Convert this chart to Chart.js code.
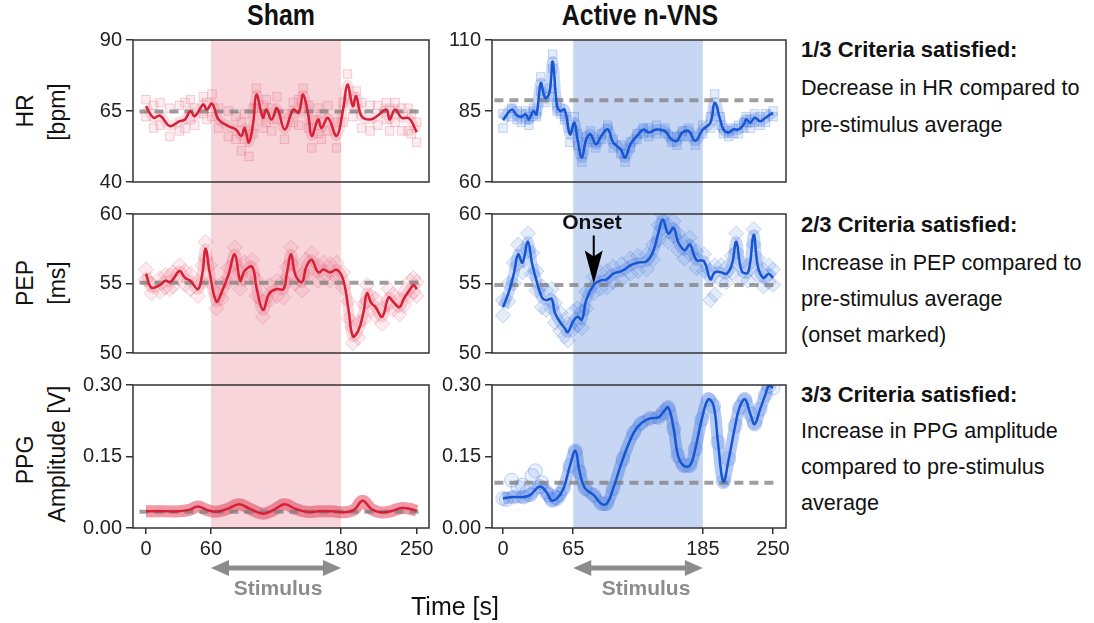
<!DOCTYPE html>
<html>
<head>
<meta charset="utf-8">
<script src="https://cdn.jsdelivr.net/npm/chart.js@4.4.1/dist/chart.umd.min.js"></script>
<style>
  body { margin: 0; background: #fff; width: 1094px; height: 623px; overflow: hidden; position: relative;
         font-family: "Liberation Sans", Arial, sans-serif; color: #111; }
  canvas { position: absolute; }
  .t { position: absolute; white-space: nowrap; line-height: 24px; }
  .title { font-weight: bold; font-size: 30px; transform: translateX(-50%) scaleX(0.83); }
  .ylab { font-size: 23px; transform: translate(-50%, -50%) rotate(-90deg); }
  .crit { left: 801px; font-size: 21.6px; }
  .crit b { font-weight: bold; font-size: 22px; }
  .stim { font-weight: bold; font-size: 21px; color: #8c8c8c; transform: translateX(-50%); }
</style>
</head>
<body>

<div class="t title" style="left:281px; top:3px;">Sham</div>
<div class="t title" style="left:640px; top:3px;">Active n-VNS</div>

<div class="t ylab" style="left:25px; top:111px;">HR</div>
<div class="t ylab" style="left:57px; top:112px;">[bpm]</div>
<div class="t ylab" style="left:25px; top:283px;">PEP</div>
<div class="t ylab" style="left:57px; top:283px;">[ms]</div>
<div class="t ylab" style="left:25px; top:460px;">PPG</div>
<div class="t ylab" style="left:57px; top:454px;">Amplitude [V]</div>

<div class="t crit" style="top:38px;"><b>1/3 Criteria satisfied:</b></div>
<div class="t crit" style="top:76px;">Decrease in HR compared to</div>
<div class="t crit" style="top:113px;">pre-stimulus average</div>
<div class="t crit" style="top:213px;"><b>2/3 Criteria satisfied:</b></div>
<div class="t crit" style="top:251px;">Increase in PEP compared to</div>
<div class="t crit" style="top:287px;">pre-stimulus average</div>
<div class="t crit" style="top:323px;">(onset marked)</div>
<div class="t crit" style="top:383px;"><b>3/3 Criteria satisfied:</b></div>
<div class="t crit" style="top:419px;">Increase in PPG amplitude</div>
<div class="t crit" style="top:455px;">compared to pre-stimulus</div>
<div class="t crit" style="top:491px;">average</div>

<canvas id="c11" width="380" height="198" style="left:60px; top:0px;"></canvas>
<canvas id="c12" width="355" height="198" style="left:440px; top:0px;"></canvas>
<canvas id="c21" width="380" height="171" style="left:60px; top:198px;"></canvas>
<canvas id="c22" width="355" height="171" style="left:440px; top:198px;"></canvas>
<canvas id="c31" width="380" height="254" style="left:60px; top:369px;"></canvas>
<canvas id="c32" width="355" height="254" style="left:440px; top:369px;"></canvas>

<div class="t" style="left:592px; top:210px; transform:translateX(-50%); font-weight:bold; font-size:21px;">Onset</div>
<div class="t stim" style="left:278px; top:576px;">Stimulus</div>
<div class="t stim" style="left:646px; top:576px;">Stimulus</div>
<div class="t" style="left:455px; top:594px; transform:translateX(-50%); font-size:25px;">Time [s]</div>

<script>
// stimulus windows and axis ticks
const shamBand = [60, 180];
const activeBand = [65, 185];
const shamXTicks = [0, 60, 180, 250];
const activeXTicks = [0, 65, 185, 250];
const hrShamTicks = [40, 65, 90];
const hrActiveTicks = [60, 85, 110];
const pepTicks = [50, 55, 60];
const ppgTicks = [0, 0.15, 0.30];

// pre-stimulus averages (dashed lines)
const hrShamMean = 64.8;
const hrActiveMean = 88.8;
const pepShamMean = 55.05;
const pepActiveMean = 54.9;
const ppgShamMean = 0.034;
const ppgActiveMean = 0.095;

const onsetTime = 84;
const onsetValue = 55;

// HR, sham
const shamHrT = [0,7,13,22,31,36,41,45,53,56,61,67,76,83,88,91,95,99,102,108,111,116,121,128,136,141,145,150,153,159,162,168,176,182,186,191,194,199,207,214,222,225,230,236,242,245,250];
const shamHrLine = [66.7,62.6,63.4,59.7,61.4,62,65,63.2,67.3,65.5,67.6,62,59.7,58.5,56.2,59,53.9,60.9,70.8,62.6,65.5,62,66,58.5,65.5,64.4,70.8,63.2,56.2,62,59,62.6,56.2,65.5,74.3,66.7,70.2,63.2,62,63.4,65.5,62,65.5,62.6,62.6,61.4,57.5];
const shamHrPtsA = [69,67,68,66,67,68,69,66,70,68,71,66,65,63,61,64,58,66,73,67,69,66,70,64,68,69,73,67,62,66,64,67,61,68,78,70,72,68,67,67,68,66,68,66,66,64,61];
const shamHrPtsB = [63,59,60,56,58,59,62,60,64,62,63,59,56,55,51,55,49,57,66,59,61,58,62,55,61,60,66,59,52,57,55,58,52,61,69,63,66,59,58,60,62,58,61,58,58,57,54];

// HR, active
const activeHrT = [0,8,13,17,21,24,28,31,35,39,43,46,50,53,57,62,66,69,73,77,81,86,91,97,102,109,113,118,124,130,135,142,150,156,161,166,172,178,185,192,196,201,204,209,213,218,223,225,229,233,238,243,250];
const activeHrLine = [81.8,85.5,83.4,83,83.8,82,85,83.8,94.8,89.6,91.4,102.4,86.7,85,85.5,76.8,80.9,75,68.6,75,76.8,73.3,76.2,78.5,73.9,71.5,68.6,73.3,76.2,78.5,77.4,78.5,77.9,75,74.5,77.4,77.9,74.5,78.5,80.9,87.9,82,78.5,77.4,78.5,78.5,80.3,82,80.9,82.6,81.4,82.6,84.4];
const activeHrPtsA = [79,83,82,81,82,80,84,83,97,91,93,105,88,84,83,79,83,73,67,74,75,72,75,79,75,70,67,72,75,79,76,80,77,74,73,76,76,73,77,79,91,80,77,76,77,77,79,81,79,81,80,81,85];
const activeHrPtsB = [84,86,85,84,85,83,86,85,92,88,90,100,85,86,82,74,78,77,70,76,78,74,77,80,72,73,70,74,77,77,79,77,79,76,76,78,79,76,80,83,85,83,79,78,79,80,81,83,82,84,83,84,83];

// PEP, sham
const shamPepT = [0,5,13,18,22,25,31,36,41,48,52,55,59,65,70,76,82,87,91,98,102,108,114,121,127,130,134,138,144,148,153,159,164,170,176,182,187,191,196,201,204,208,212,218,224,228,234,238,244,247,250];
const shamPepLine = [55.7,54.7,54.9,55.2,55.1,55.3,55.9,55.4,55.2,54.6,55.7,57.5,55.7,53.7,54.4,55.6,57.1,55.2,55.9,56.2,54.7,53.1,54.3,54.6,54.6,55.7,57.1,55.6,55.1,56.2,56.7,55.8,56,55.8,56,55.3,53.1,51.2,51.6,53,54.3,53.6,53.3,52.6,54,53.7,53.3,53.9,54.6,54.9,54.6];
const shamPepPtsA = [56,55,55.4,55.6,55.6,55.8,56.3,55.9,55.7,55.1,56.3,58,56.3,54.3,55,56.1,57.6,55.8,56.5,56.7,55.3,53.7,54.9,55.2,55.2,56.2,57.6,56.2,55.6,56.7,57.2,56.3,56.5,56.4,56.5,55.8,53.7,51.8,52.2,53.5,54.9,54.1,53.9,53.2,54.6,54.2,53.9,54.4,55.2,55.4,55.1];
const shamPepPtsB = [55.3,54.3,54.4,54.7,54.6,54.8,55.4,54.9,54.6,54.1,55.1,56.8,55.1,53.2,53.9,55.1,56.5,54.6,55.3,55.6,54.1,52.6,53.8,54.1,54,55.1,56.5,55,54.5,55.6,56.1,55.2,55.4,55.2,55.4,54.7,52.5,50.7,51.1,52.4,53.7,53.1,52.7,52.1,53.5,53.1,52.8,53.4,54.1,54.4,54.1];

// PEP, active
const activePepT = [0,5,10,14,18,23,27,31,36,40,45,48,53,57,60,65,69,73,77,84,90,96,102,110,118,125,133,139,144,148,153,158,162,168,173,179,186,192,196,202,207,212,216,221,227,232,236,241,246,250];
const activePepLine = [53.3,54.3,55.7,57.1,56.5,58,56.4,55.2,54,53.8,53.9,52.9,52.2,51.8,51.5,52.3,52.6,52.4,53.8,54.9,55.2,55.3,55.7,55.9,56.3,56.5,56.6,57.3,58.7,59.6,58.6,59,58,57.4,57.8,56.7,56.6,55.3,55.8,55.8,55.7,56.4,58,55.9,55.8,58.5,56.2,55.4,55.7,55.4];
const activePepPtsA = [53.8,55,56.5,57.8,57.4,58.6,57.2,55.9,54.8,54.5,54.6,53.6,52.9,52.4,52.1,53,53.2,53,54.4,55.5,55.8,55.9,56.2,56.4,56.8,57,57.1,57.8,59.2,59.9,59.2,59.5,58.6,58,58.3,57.3,57.1,55.9,56.3,56.3,56.2,57,58.6,56.5,56.3,58.9,56.8,56,56.3,56];
const activePepPtsB = [52.7,53.7,55,56.4,55.8,57.3,55.7,54.5,53.3,53.1,53.2,52.2,51.6,51.2,50.9,51.7,52,51.8,53.2,54.3,54.6,54.7,55.1,55.3,55.7,55.9,56,56.7,58.1,59,58,58.4,57.4,56.8,57.1,56.1,55.9,53.8,54.2,55.2,55.1,55.8,57.3,55.3,55.2,57.8,55.6,54.8,55.1,54.9];

// PPG amplitude, sham
const shamPpgT = [0,10,20,30,40,48,56,65,75,86,96,108,118,128,138,148,160,172,182,192,200,208,216,226,236,244,250];
const shamPpgLine = [0.035,0.035,0.035,0.035,0.038,0.045,0.038,0.034,0.04,0.05,0.04,0.03,0.038,0.05,0.04,0.034,0.035,0.035,0.033,0.038,0.057,0.04,0.033,0.035,0.042,0.04,0.036];

// PPG amplitude, active
const activePpgT = [0,10,19,25,34,40,45,50,56,62,67,71,76,84,91,96,102,111,121,128,136,144,148,153,158,162,167,173,178,184,190,195,199,204,209,215,219,224,229,233,238,243,246,250];
const activePpgLine = [0.062,0.065,0.065,0.069,0.087,0.076,0.058,0.062,0.083,0.131,0.162,0.117,0.083,0.069,0.051,0.051,0.083,0.145,0.2,0.22,0.23,0.232,0.242,0.253,0.208,0.152,0.131,0.131,0.166,0.228,0.27,0.256,0.18,0.097,0.145,0.215,0.253,0.27,0.239,0.218,0.249,0.28,0.298,0.294];
const activePpgEarlyT = [3,8,14,18,22,27,30,36,42,48,52];
const activePpgEarly = [0.06,0.1,0.085,0.09,0.075,0.11,0.12,0.095,0.07,0.065,0.07];

const RED = 'rgb(214,32,56)';
const BLUE = 'rgb(22,86,210)';
const tickFont = { family: '"Liberation Sans", Arial, sans-serif', size: 20 };

function xy(ts, vs) {
    return ts.map((t, i) => ({ x: t, y: vs[i] }));
}

function lineSet(ts, vs, color) {
    return { data: xy(ts, vs), showLine: true, borderColor: color, borderWidth: 2.5, pointRadius: 0, tension: 0.4 };
}

function haloSet(ts, vs, color, width) {
    return { data: xy(ts, vs), showLine: true, borderColor: color, borderWidth: width, pointRadius: 0, tension: 0.4 };
}

function ptsSet(ts, vs, style, r, fill, stroke) {
    return { data: xy(ts, vs), pointStyle: style, pointRadius: r, backgroundColor: fill, borderColor: stroke, borderWidth: 1 };
}

function meanSet(xr, v) {
    return { data: [{ x: xr[0], y: v }, { x: xr[1], y: v }], showLine: true, borderColor: 'rgba(125,125,125,0.75)',
             borderWidth: 4, borderDash: [9, 6], pointRadius: 0 };
}

// draws the stimulus band, the frame, the stimulus arrow and the onset marker
function framePlugin(o) {
    return {
        id: 'frame',
        beforeDatasetsDraw(chart) {
            const { ctx, chartArea: a, scales: { x } } = chart;
            const x1 = x.getPixelForValue(o.band[0]);
            const x2 = x.getPixelForValue(o.band[1]);
            const y1 = o.row === 1 ? a.top : 0;
            const y2 = o.row === 3 ? a.bottom : chart.height;
            ctx.save();
            ctx.fillStyle = o.bandColor;
            ctx.fillRect(x1, y1, x2 - x1, y2 - y1);
            ctx.restore();
        },
        afterDraw(chart) {
            const { ctx, chartArea: a, scales: { x, y } } = chart;
            ctx.save();
            ctx.strokeStyle = '#333';
            ctx.lineWidth = 1.5;
            ctx.strokeRect(a.left, a.top, a.right - a.left, a.bottom - a.top);

            if (o.row === 3) {
                const x1 = x.getPixelForValue(o.band[0]);
                const x2 = x.getPixelForValue(o.band[1]);
                const ay = a.bottom + 40;
                ctx.strokeStyle = ctx.fillStyle = '#8c8c8c';
                ctx.lineWidth = 5;
                ctx.beginPath();
                ctx.moveTo(x1 + 12, ay);
                ctx.lineTo(x2 - 12, ay);
                ctx.stroke();
                ctx.beginPath();
                ctx.moveTo(x1, ay); ctx.lineTo(x1 + 18, ay - 8); ctx.lineTo(x1 + 18, ay + 8);
                ctx.closePath(); ctx.fill();
                ctx.beginPath();
                ctx.moveTo(x2, ay); ctx.lineTo(x2 - 18, ay - 8); ctx.lineTo(x2 - 18, ay + 8);
                ctx.closePath(); ctx.fill();
            }

            if (o.onset) {
                const ox = x.getPixelForValue(onsetTime);
                const oy = y.getPixelForValue(onsetValue);
                ctx.strokeStyle = ctx.fillStyle = '#000';
                ctx.lineWidth = 2;
                ctx.beginPath();
                ctx.moveTo(ox, oy - 48);
                ctx.lineTo(ox, oy - 24);
                ctx.stroke();
                ctx.beginPath();
                ctx.moveTo(ox, oy);
                ctx.lineTo(ox - 9, oy - 33);
                ctx.lineTo(ox, oy - 27);
                ctx.lineTo(ox + 9, oy - 33);
                ctx.closePath();
                ctx.fill();
            }
            ctx.restore();
        }
    };
}

function panel(id, o) {
    const left = o.col === 1;
    const bottomRow = o.row === 3;
    return new Chart(document.getElementById(id), {
        type: 'scatter',
        data: { datasets: o.datasets },
        options: {
            responsive: false,
            animation: false,
            devicePixelRatio: 1,
            layout: { padding: { left: 0, right: left ? 11 : 9, top: o.row === 1 ? 40 : (o.row === 2 ? 14 : 15), bottom: bottomRow ? 0 : 15 } },
            plugins: { legend: { display: false }, tooltip: { enabled: false } },
            scales: {
                x: {
                    type: 'linear',
                    display: bottomRow,
                    min: left ? -12 : -10.2,
                    max: left ? 261.3 : 262,
                    afterBuildTicks: s => { s.ticks = (left ? shamXTicks : activeXTicks).map(v => ({ value: v })); },
                    afterFit: s => { s.height = bottomRow ? 95 : 0; },
                    border: { display: false },
                    grid: { drawOnChartArea: false, drawTicks: true, tickLength: 6, color: '#333', lineWidth: 1.5 },
                    ticks: { font: tickFont, color: '#222', padding: 3, maxRotation: 0 }
                },
                y: {
                    min: o.yTicks[0],
                    max: o.yTicks[o.yTicks.length - 1],
                    afterBuildTicks: s => { s.ticks = o.yTicks.map(v => ({ value: v })); },
                    afterFit: s => { s.width = left ? 73 : 52; },
                    border: { display: false },
                    grid: { drawOnChartArea: false, drawTicks: true, tickLength: 7, color: '#333', lineWidth: 1.5 },
                    ticks: { font: tickFont, color: '#222', padding: 4, callback: v => o.fmt ? v.toFixed(2) : v }
                }
            }
        },
        plugins: [framePlugin({ row: o.row, band: left ? shamBand : activeBand,
                                bandColor: left ? '#f7d5db' : '#c7d7f3', onset: o.onset })]
    });
}

const redPtFill = 'rgba(236,120,140,0.14)', redPtLine = 'rgba(226,80,104,0.26)';
const bluePtFill = 'rgba(70,125,230,0.14)', bluePtLine = 'rgba(50,105,220,0.26)';
const shamMeanX = [-6, 255], activeMeanX = [-8, 254];

panel('c11', { row: 1, col: 1, yTicks: hrShamTicks, datasets: [
    lineSet(shamHrT, shamHrLine, RED),
    meanSet(shamMeanX, hrShamMean),
    haloSet(shamHrT, shamHrLine, 'rgba(230,80,100,0.18)', 10),
    ptsSet(shamHrT, shamHrPtsA, 'rect', 6, redPtFill, redPtLine),
    ptsSet(shamHrT, shamHrPtsB, 'rect', 6, redPtFill, redPtLine)
]});

panel('c12', { row: 1, col: 2, yTicks: hrActiveTicks, datasets: [
    lineSet(activeHrT, activeHrLine, BLUE),
    meanSet(activeMeanX, hrActiveMean),
    haloSet(activeHrT, activeHrLine, 'rgba(40,100,220,0.25)', 11),
    ptsSet(activeHrT, activeHrPtsA, 'rect', 6, bluePtFill, bluePtLine),
    ptsSet(activeHrT, activeHrPtsB, 'rect', 6, bluePtFill, bluePtLine)
]});

panel('c21', { row: 2, col: 1, yTicks: pepTicks, datasets: [
    lineSet(shamPepT, shamPepLine, RED),
    meanSet(shamMeanX, pepShamMean),
    haloSet(shamPepT, shamPepLine, 'rgba(230,80,100,0.22)', 11),
    ptsSet(shamPepT, shamPepPtsA, 'rectRot', 7.5, redPtFill, redPtLine),
    ptsSet(shamPepT, shamPepPtsB, 'rectRot', 7.5, redPtFill, redPtLine)
]});

panel('c22', { row: 2, col: 2, yTicks: pepTicks, onset: true, datasets: [
    lineSet(activePepT, activePepLine, BLUE),
    meanSet(activeMeanX, pepActiveMean),
    haloSet(activePepT, activePepLine, 'rgba(40,100,220,0.25)', 11),
    ptsSet(activePepT, activePepPtsA, 'rectRot', 7.5, bluePtFill, bluePtLine),
    ptsSet(activePepT, activePepPtsB, 'rectRot', 7.5, bluePtFill, bluePtLine)
]});

panel('c31', { row: 3, col: 1, yTicks: ppgTicks, fmt: true, datasets: [
    lineSet(shamPpgT, shamPpgLine, RED),
    meanSet(shamMeanX, ppgShamMean),
    haloSet(shamPpgT, shamPpgLine, 'rgba(225,50,75,0.5)', 12)
]});

panel('c32', { row: 3, col: 2, yTicks: ppgTicks, fmt: true, datasets: [
    lineSet(activePpgT, activePpgLine, BLUE),
    meanSet(activeMeanX, ppgActiveMean),
    haloSet(activePpgT, activePpgLine, 'rgba(40,100,220,0.35)', 12),
    ptsSet(activePpgT, activePpgLine, 'circle', 7, 'rgba(70,125,230,0.12)', 'rgba(50,105,220,0.25)'),
    ptsSet(activePpgEarlyT, activePpgEarly, 'circle', 7, 'rgba(70,125,230,0.12)', 'rgba(50,105,220,0.3)')
]});
</script>
</body>
</html>
